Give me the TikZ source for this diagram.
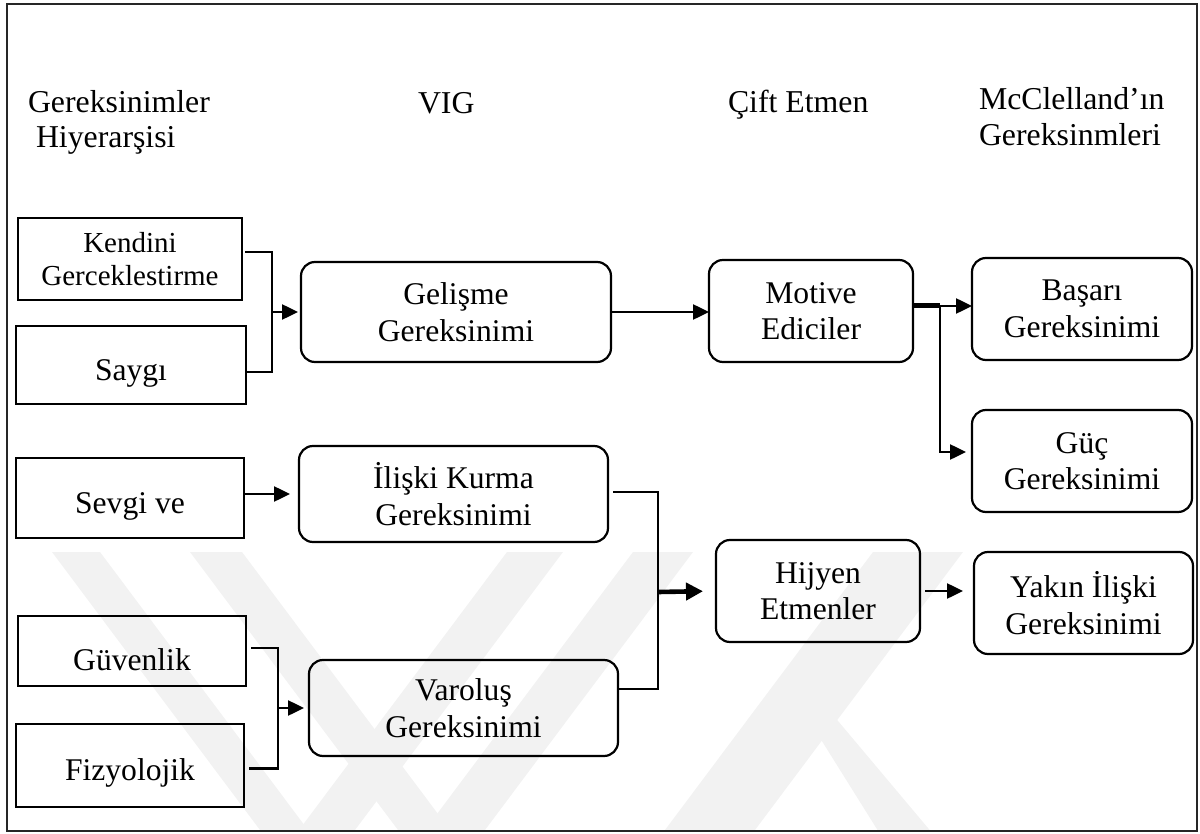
\documentclass[tikz,border=0pt]{standalone}
\usepackage{fontspec}
\setmainfont{Liberation Serif}
\usetikzlibrary{arrows.meta}
% keep a line's box size but set it lower inside its frame
\newcommand\dropby[2]{\raisebox{-#1}[\height][\depth]{#2}}

\begin{document}
\begin{tikzpicture}[x=0.5pt,y=-0.5pt,
  every node/.style={font=\fontsize{15.8}{18.2}\selectfont, align=center,
                     inner sep=0pt, outer sep=0pt},
  hdr/.style={anchor=base west, font=\fontsize{15.9}{18}\selectfont},
  sqbox/.style={draw, line width=1.1pt},
  rbox/.style={draw, line width=1.1pt, rounded corners=7pt},
  conn/.style={line width=1.25pt},
  arr/.style={conn, -{Triangle[length=8pt,width=7.5pt]}},
  wm/.style={fill=black!5, draw=none}
]
\useasboundingbox (0,0) rectangle (1200,834);

% faint background emblem
\begin{scope}
  \clip (8,552) rectangle (1196,830);
  \fill[wm] (52,552) -- (100,552) -- (311,834) -- (263,834) -- cycle;
  \fill[wm] (190,552) -- (242,552) -- (453,834) -- (401,834) -- cycle;
  \fill[wm] (507,552) -- (563,552) -- (352,834) -- (296,834) -- cycle;
  \fill[wm] (633,552) -- (693,552) -- (482,834) -- (422,834) -- cycle;
  \fill[wm] (873,552) -- (963,552) -- (752,834) -- (662,834) -- cycle;
  \fill[wm] (790,690) -- (812,690) -- (933,834) -- (880,834) -- cycle;
\end{scope}

% outer frame
\draw[line width=1.3pt, black!85] (7,4) rectangle (1197,831);

% column headings
\node[hdr] (hA1) at (28,113) {Gereksinimler};
\node[hdr] (hA2) at (36,148) {Hiyerarşisi};
\node[hdr] (hB)  at (418,114) {VIG};
\node[hdr] (hC)  at (728,113) {Çift Etmen};
\node[hdr] (hD1) at (979,110) {McClelland’ın};
\node[hdr] (hD2) at (979,146) {Gereksinmleri};

% hierarchy levels
\node[sqbox, minimum width=112pt, minimum height=41pt,
      font=\fontsize{14.5}{16.5}\selectfont] (kendini) at (130,259)
      {Kendini\\Gerceklestirme};
\node[sqbox, minimum width=115pt, minimum height=39pt] (saygi) at (131,365)
      {\dropby{4pt}{Saygı}};
\node[sqbox, minimum width=114pt, minimum height=40pt] (sevgi) at (130,498)
      {\dropby{4pt}{Sevgi ve}};
\node[sqbox, minimum width=114pt, minimum height=35pt] (guven) at (132,651)
      {\dropby{4.5pt}{Güvenlik}};
\node[sqbox, minimum width=114pt, minimum height=41.5pt] (fizyo) at (130,765.5)
      {\dropby{3.5pt}{Fizyolojik}};

% VIG needs
\node[rbox, minimum width=155pt, minimum height=50pt] (gelisme) at (456,312)
      {Gelişme\\Gereksinimi};
\node[rbox, minimum width=154.5pt, minimum height=48pt] (iliski) at (453.5,494)
      {İlişki Kurma\\Gereksinimi};
\node[rbox, minimum width=154.5pt, minimum height=48pt] (varolus) at (463.5,708)
      {Varoluş\\Gereksinimi};

% two-factor groups
\node[rbox, minimum width=102pt, minimum height=51pt] (motive) at (811,311)
      {Motive\\Ediciler};
\node[rbox, minimum width=102pt, minimum height=51pt] (hijyen) at (818,591)
      {Hijyen\\Etmenler};

% McClelland needs
\node[rbox, minimum width=110pt, minimum height=51pt] (basari) at (1082,309)
      {Başarı\\Gereksinimi};
\node[rbox, minimum width=110pt, minimum height=51pt] (guc) at (1082,461)
      {Güç\\Gereksinimi};
\node[rbox, minimum width=109.5pt, minimum height=51pt] (yakin) at (1083.5,603)
      {Yakın İlişki\\Gereksinimi};

% junction points
\coordinate (jA) at (272,312);
\coordinate (jB) at (940,306);
\coordinate (jC) at (658,592);
\coordinate (jD) at (278,708);

% upper branch
\draw[conn, shorten <=1.5pt] ([yshift=3.5pt]kendini.east) -| (jA) |- ([yshift=-3.5pt]saygi.east);
\draw[arr, shorten >=1.5pt] (jA) -- (gelisme.west);
\draw[arr] (gelisme.east) -- (motive.west |- gelisme.east);
\draw[line width=2.5pt] ([yshift=2.5pt]motive.east) -- (jB);
\draw[arr] (jB) -- (jB -| basari.west);
\draw[arr, shorten >=3pt] (jB) |- ([yshift=4.5pt]guc.west);

% lower branch
\draw[arr, shorten >=4.5pt] (sevgi.east |- iliski.west) -- (iliski.west);
\draw[conn, shorten <=2.5pt, shorten >=2.5pt] ([yshift=1.5pt]guven.east) -| (jD) |- ([yshift=-1.5pt]fizyo.east);
\draw[arr, shorten >=2.5pt] (jD) -- (varolus.west);
\draw[conn, shorten <=2.5pt] ([yshift=1pt]iliski.east) -| (jC) |- ([yshift=9.5pt]varolus.east);
\draw[line width=2.3pt, -{Triangle[length=8.5pt,width=8.5pt]}, shorten >=6.5pt] (jC) -- (hijyen.west);
\draw[arr, shorten <=2.5pt, shorten >=5.5pt] (hijyen.east) -- (hijyen.east -| yakin.west);
\end{tikzpicture}
\end{document}
